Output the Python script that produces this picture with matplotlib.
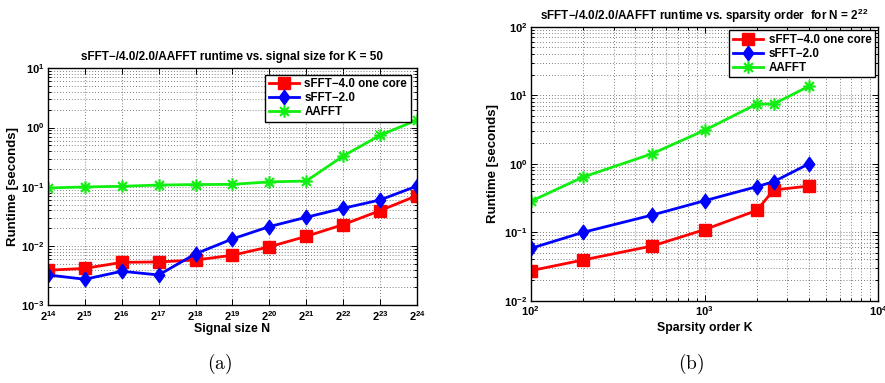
import numpy as np
import matplotlib
matplotlib.use("Agg")
import matplotlib.pyplot as plt
from matplotlib.path import Path
from matplotlib.ticker import NullLocator, LogLocator, FuncFormatter, NullFormatter

plt.rcParams['font.family'] = ['Liberation Sans', 'DejaVu Sans']
plt.rcParams['font.weight'] = 'bold'
plt.rcParams['mathtext.fontset'] = 'custom'
plt.rcParams['mathtext.rm'] = 'Liberation Sans:bold'
plt.rcParams['mathtext.bf'] = 'Liberation Sans:bold'
plt.rcParams['mathtext.it'] = 'Liberation Sans:bold'

# ---- data (a): runtime vs signal size, K = 50 ----
n_exp = [14, 15, 16, 17, 18, 19, 20, 21, 22, 23, 24]
sfft4_a = [0.0039, 0.0042, 0.0053, 0.0054, 0.0058, 0.0070, 0.0097, 0.0146, 0.0230, 0.0396, 0.071]
sfft2_a = [0.00325, 0.00275, 0.00375, 0.00325, 0.0074, 0.0132, 0.0213, 0.0306, 0.0434, 0.060, 0.103]
aafft_a = [0.0955, 0.0993, 0.102, 0.107, 0.109, 0.110, 0.121, 0.125, 0.331, 0.74, 1.34]

# ---- data (b): runtime vs sparsity, N = 2^22 ----
k_vals = [100, 200, 500, 1000, 2000, 2500, 4000]
sfft4_b = [0.0274, 0.0393, 0.0629, 0.109, 0.208, 0.413, 0.472]
sfft2_b = [0.058, 0.0995, 0.178, 0.288, 0.462, 0.546, 1.0]
aafft_b = [0.282, 0.638, 1.40, 3.07, 7.43, 7.43, 13.6]

labels = ['sFFT\u22124.0 one core', 'sFFT\u22122.0', 'AAFFT']

fig = plt.figure(figsize=(8.85, 3.83), dpi=100)
axA = fig.add_axes([0.0542, 0.2029, 0.4170, 0.6188])
axB = fig.add_axes([0.5997, 0.2149, 0.3927, 0.7154])

def pow10(v, pos):
    e = int(round(np.log10(v)))
    s = str(e).replace('-', '\u2212')
    return '$\\mathbf{10^{%s}}$' % s

# MATLAB-like markers
diamond = Path([(0, 1), (0.72, 0), (0, -1), (-0.72, 0), (0, 1)],
               [Path.MOVETO, Path.LINETO, Path.LINETO, Path.LINETO, Path.CLOSEPOLY])
_sp = []
_cd = []
for ang in [0, 45, 90, 135]:
    a = np.deg2rad(ang)
    _sp += [(np.cos(a), np.sin(a)), (-np.cos(a), -np.sin(a))]
    _cd += [Path.MOVETO, Path.LINETO]
asterisk = Path(_sp, _cd)

GREEN = '#11ee11'
gsq = dict(color='red', marker='s', markersize=8, linewidth=2.0)
gdi = dict(color='blue', marker=diamond, markersize=10.5, linewidth=2.0)
gst = dict(color=GREEN, marker=asterisk, markersize=9, markeredgewidth=1.6,
           markerfacecolor='none', markeredgecolor=GREEN, linewidth=2.0)

TICK_FS = 8

def style(ax):
    for sp in ax.spines.values():
        sp.set_linewidth(1.0)
        sp.set_color('black')
    ax.tick_params(which='both', direction='in', top=True, right=True, labelsize=TICK_FS, width=0.7, pad=2.5)
    ax.tick_params(which='major', length=4)
    ax.tick_params(which='minor', length=2)
    ax.grid(True, which='major', linestyle=(0, (1, 2.5)), color='#555555', linewidth=0.6)

def legend(ax, pad):
    leg = ax.legend(loc='upper right', fontsize=8.4, frameon=True, fancybox=False, edgecolor='black',
                    borderaxespad=pad, handlelength=2.6, handletextpad=0.45, labelspacing=0.18,
                    borderpad=0.3, framealpha=1.0)
    leg.get_frame().set_linewidth(1.0)
    return leg

# ---- panel (a) ----
xa = [2.0 ** e for e in n_exp]
axA.plot(xa, sfft4_a, label=labels[0], **gsq)
axA.plot(xa, sfft2_a, label=labels[1], **gdi)
axA.plot(xa, aafft_a, label=labels[2], **gst)
axA.set_xscale('log', base=2)
axA.set_yscale('log')
axA.set_xlim(2.0 ** 14, 2.0 ** 24)
axA.set_ylim(1e-3, 1e1)
axA.set_xticks(xa)
axA.set_xticklabels(['$\\mathbf{2^{%d}}$' % e for e in n_exp])
axA.xaxis.set_minor_locator(NullLocator())
axA.yaxis.set_major_locator(LogLocator(base=10, numticks=10))
axA.yaxis.set_major_formatter(FuncFormatter(pow10))
axA.yaxis.set_minor_locator(LogLocator(base=10, subs=np.arange(2, 10), numticks=20))
axA.yaxis.set_minor_formatter(NullFormatter())
style(axA)
axA.grid(True, which='minor', axis='y', linestyle=(0, (1, 2.5)), color='#555555', linewidth=0.6)
axA.set_title('sFFT\u2212/4.0/2.0/AAFFT runtime vs. signal size for K = 50', fontsize=8.5, fontweight='bold', pad=6)
axA.set_xlabel('Signal size N', fontsize=8.8, fontweight='bold', labelpad=0)
axA.set_ylabel('Runtime [seconds]', fontsize=9.5, fontweight='bold', labelpad=2)
legend(axA, 0.55)

# ---- panel (b) ----
axB.plot(k_vals, sfft4_b, label=labels[0], **gsq)
axB.plot(k_vals, sfft2_b, label=labels[1], **gdi)
axB.plot(k_vals, aafft_b, label=labels[2], **gst)
axB.set_xscale('log')
axB.set_yscale('log')
axB.set_xlim(1e2, 1e4)
axB.set_ylim(1e-2, 1e2)
for axis in (axB.xaxis, axB.yaxis):
    axis.set_major_locator(LogLocator(base=10, numticks=10))
    axis.set_major_formatter(FuncFormatter(pow10))
    axis.set_minor_locator(LogLocator(base=10, subs=np.arange(2, 10), numticks=20))
    axis.set_minor_formatter(NullFormatter())
style(axB)
axB.grid(True, which='minor', linestyle=(0, (1, 2.5)), color='#555555', linewidth=0.6)
axB.set_title('sFFT\u2212/4.0/2.0/AAFFT runtime vs. sparsity order  for N = $\\mathbf{2^{22}}$',
              fontsize=8.5, fontweight='bold', pad=5)
axB.set_xlabel('Sparsity order K', fontsize=8.8, fontweight='bold', labelpad=3)
axB.set_ylabel('Runtime [seconds]', fontsize=9.5, fontweight='bold', labelpad=4)
legend(axB, 0.3)

fig.text(0.248, 0.05, '$\\mathrm{(a)}$', fontsize=14, ha='center', va='center', math_fontfamily='cm')
fig.text(0.781, 0.05, '$\\mathrm{(b)}$', fontsize=14, ha='center', va='center', math_fontfamily='cm')

fig.savefig('out.png', dpi=100)
